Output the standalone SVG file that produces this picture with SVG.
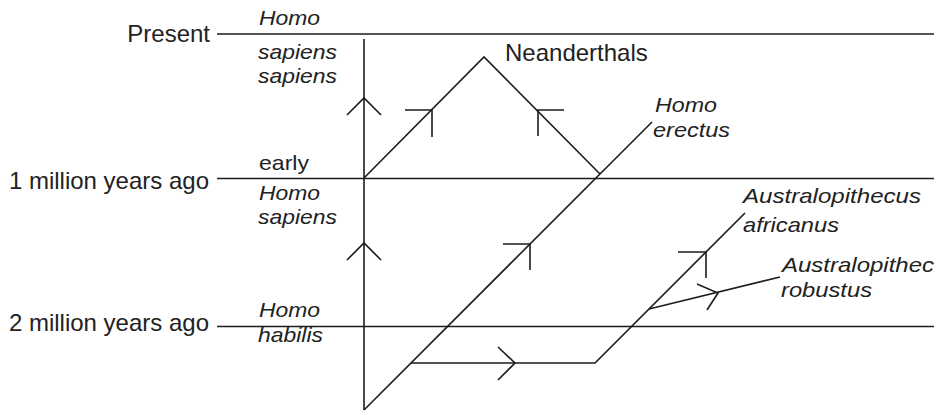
<svg xmlns="http://www.w3.org/2000/svg" width="934" height="414" viewBox="0 0 934 414">
<style>
.ln{fill:none;stroke:#1c1c1c;stroke-width:1.6;stroke-linejoin:miter;stroke-linecap:butt}
.lab{font-family:"Liberation Sans",Arial,sans-serif;font-size:24px;fill:#222}
.it{font-family:"Liberation Sans",Arial,sans-serif;font-size:21px;font-style:italic;fill:#222}
.up{font-style:normal}
</style>
<rect width="934" height="414" fill="#fff"/>
<g id="connectors">
<line class="ln" x1="217" y1="34" x2="934" y2="34"/>
<line class="ln" x1="217" y1="178.5" x2="934" y2="178.5"/>
<line class="ln" x1="217" y1="326.5" x2="934" y2="326.5"/>
<line class="ln" x1="364" y1="39" x2="364" y2="410"/>
<polyline class="ln" points="364,178 484,57 600,174"/>
<line class="ln" x1="364" y1="410" x2="652" y2="122"/>
<polyline class="ln" points="411,363 595,363 745,213"/>
<line class="ln" x1="649" y1="309" x2="780" y2="277"/>
<polyline class="ln" points="347,115 364,98 381,115"/>
<polyline class="ln" points="347,260 364,243 381,260"/>
<polyline class="ln" points="405,110 432,110 432,137"/>
<polyline class="ln" points="564,110 538,110 538,136"/>
<polyline class="ln" points="503,244 530,244 530,270"/>
<polyline class="ln" points="678,252 706,252 706,278"/>
<polyline class="ln" points="498,347 515,363 498,380"/>
<polyline class="ln" points="697,284 718,293 707,310"/>
</g>
<g id="present"><text class="lab" x="210" y="42" text-anchor="end">Present</text></g>
<g id="one-million"><text class="lab" x="209" y="189" text-anchor="end">1 million years ago</text></g>
<g id="two-million"><text class="lab" x="209" y="331" text-anchor="end">2 million years ago</text></g>
<g id="homo-sapiens-sapiens">
<text class="it" x="259" y="25" textLength="61" lengthAdjust="spacingAndGlyphs">Homo</text>
<text class="it" x="258" y="59" textLength="79" lengthAdjust="spacingAndGlyphs">sapiens</text>
<text class="it" x="258" y="83" textLength="79" lengthAdjust="spacingAndGlyphs">sapiens</text>
</g>
<g id="early-homo-sapiens">
<text class="it up" x="259" y="170" textLength="50" lengthAdjust="spacingAndGlyphs">early</text>
<text class="it" x="259" y="200" textLength="61" lengthAdjust="spacingAndGlyphs">Homo</text>
<text class="it" x="258" y="224" textLength="79" lengthAdjust="spacingAndGlyphs">sapiens</text>
</g>
<g id="homo-habilis">
<text class="it" x="259" y="317" textLength="61" lengthAdjust="spacingAndGlyphs">Homo</text>
<text class="it" x="258" y="342" textLength="65" lengthAdjust="spacingAndGlyphs">habilis</text>
</g>
<g id="neanderthals"><text class="lab" x="505" y="61">Neanderthals</text></g>
<g id="homo-erectus">
<text class="it" x="655" y="112" textLength="62" lengthAdjust="spacingAndGlyphs">Homo</text>
<text class="it" x="653" y="137" textLength="77" lengthAdjust="spacingAndGlyphs">erectus</text>
</g>
<g id="australopithecus-africanus">
<text class="it" x="743" y="203" textLength="178" lengthAdjust="spacingAndGlyphs">Australopithecus</text>
<text class="it" x="743" y="232" textLength="96" lengthAdjust="spacingAndGlyphs">africanus</text>
</g>
<g id="australopithecus-robustus">
<text class="it" x="782" y="272" textLength="152" lengthAdjust="spacingAndGlyphs">Australopithec</text>
<text class="it" x="781" y="297" textLength="91" lengthAdjust="spacingAndGlyphs">robustus</text>
</g>
</svg>
